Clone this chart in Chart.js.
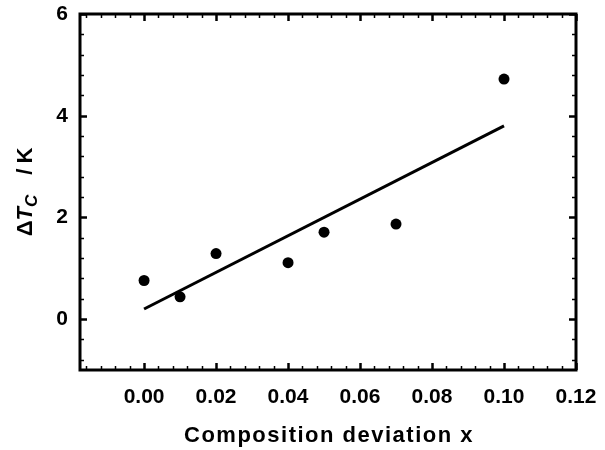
<!DOCTYPE html>
<html>
<head>
    <meta charset="utf-8"/>
    <title>Composition deviation</title>
    <style>
        html, body { margin: 0; padding: 0; background: #fff; }
        #chart-box { width: 605px; height: 450px; }
    </style>
    <script src="https://cdn.jsdelivr.net/npm/chart.js@4/dist/chart.umd.min.js"></script>
</head>
<body>
<div id="chart-box"><canvas id="chart"></canvas></div>
<script>
    // measured points
    const compX = [0.00, 0.01, 0.02, 0.04, 0.05, 0.07, 0.10];
    const deltaTc = [0.76, 0.44, 1.29, 1.11, 1.71, 1.87, 4.72];

    // fitted line end points
    const fitX = [0.00, 0.10];
    const fitY = [0.20, 3.80];

    const xTicks = [0.00, 0.02, 0.04, 0.06, 0.08, 0.10, 0.12];
    const yTicks = [0, 2, 4, 6];

    const FONT = "'Liberation Sans', Arial, sans-serif";

    function pairs(xs, ys) {
        return xs.map((x, i) => ({ x: x, y: ys[i] }));
    }

    // inward ticks on all four sides plus a closed frame
    const frameTicks = {
        id: 'frameTicks',
        afterDraw(chart) {
            const ctx = chart.ctx;
            const a = chart.chartArea;
            const xs = chart.scales.x, ys = chart.scales.y;
            ctx.save();
            ctx.strokeStyle = '#000';
            ctx.lineCap = 'butt';

            function xt(v, len, w) {
                const px = Math.round(xs.getPixelForValue(v)) + 0.5;
                ctx.lineWidth = w;
                ctx.beginPath();
                ctx.moveTo(px, a.bottom); ctx.lineTo(px, a.bottom - len);
                ctx.moveTo(px, a.top); ctx.lineTo(px, a.top + len);
                ctx.stroke();
            }
            function yt(v, len, w) {
                const py = Math.round(ys.getPixelForValue(v)) + 0.5;
                ctx.lineWidth = w;
                ctx.beginPath();
                ctx.moveTo(a.left, py); ctx.lineTo(a.left + len, py);
                ctx.moveTo(a.right, py); ctx.lineTo(a.right - len, py);
                ctx.stroke();
            }
            for (let k = -4; k <= 30; k++) {
                const v = k * 0.004;
                if (v < xs.min || v > xs.max) continue;
                if (k % 5 === 0) xt(v, 7, 2.5); else xt(v, 4, 1.5);
            }
            for (let k = -2; k <= 15; k++) {
                const v = k * 0.4;
                if (v < ys.min || v > ys.max) continue;
                if (k % 5 === 0) yt(v, 7, 2.5); else yt(v, 4, 1.5);
            }
            ctx.lineWidth = 3;
            ctx.strokeRect(a.left, a.top, a.right - a.left, a.bottom - a.top);

            // x title
            ctx.fillStyle = '#000';
            ctx.font = 'bold 22px ' + FONT;
            ctx.letterSpacing = '1.5px';
            ctx.textAlign = 'center';
            ctx.textBaseline = 'alphabetic';
            ctx.fillText('Composition deviation x', (a.left + a.right) / 2 + 1, 442);
            ctx.letterSpacing = '0px';

            // y title: ΔT_C / K, rotated
            const parts = [
                { t: '\u0394', f: 'bold 22px ' + FONT, dy: 0, gap: 0 },
                { t: 'T', f: 'italic bold 22px ' + FONT, dy: 0, gap: 0 },
                { t: 'C', f: 'italic bold 17px ' + FONT, dy: 5, gap: 20 },
                { t: '/', f: 'bold 22px ' + FONT, dy: 0, gap: 5 },
                { t: 'K', f: 'bold 22px ' + FONT, dy: 0, gap: 0 }
            ];
            let total = 0;
            parts.forEach(p => { ctx.font = p.f; p.w = ctx.measureText(p.t).width; total += p.w + p.gap; });
            ctx.translate(32, (a.top + a.bottom) / 2);
            ctx.rotate(-Math.PI / 2);
            ctx.textAlign = 'left';
            let cx = -total / 2;
            parts.forEach(p => {
                ctx.font = p.f;
                ctx.fillText(p.t, cx, p.dy);
                cx += p.w + p.gap;
            });
            ctx.restore();
        }
    };

    new Chart(document.getElementById('chart'), {
        type: 'scatter',
        data: {
            datasets: [
                {
                    label: 'data',
                    data: pairs(compX, deltaTc),
                    pointRadius: 5.5,
                    pointHoverRadius: 5.5,
                    pointBackgroundColor: '#000',
                    pointBorderColor: '#000',
                    pointBorderWidth: 0,
                    showLine: false
                },
                {
                    label: 'fit',
                    data: pairs(fitX, fitY),
                    showLine: true,
                    borderColor: '#000',
                    borderWidth: 3,
                    pointRadius: 0,
                    fill: false
                }
            ]
        },
        options: {
            responsive: true,
            maintainAspectRatio: false,
            animation: false,
            layout: { padding: { left: 0, top: 14, right: 29, bottom: 0 } },
            plugins: {
                legend: { display: false },
                tooltip: { enabled: false }
            },
            scales: {
                x: {
                    type: 'linear',
                    min: -0.0178,
                    max: 0.12,
                    grid: { display: false, drawTicks: false },
                    border: { display: false },
                    afterBuildTicks: s => { s.ticks = xTicks.map(v => ({ value: v })); },
                    afterFit: s => { s.height = 80; s.paddingLeft = 0; s.paddingRight = 0; },
                    ticks: {
                        color: '#000',
                        padding: 15,
                        maxRotation: 0,
                        autoSkip: false,
                        font: { family: FONT, size: 21, weight: 'bold' },
                        callback: v => v.toFixed(2)
                    }
                },
                y: {
                    type: 'linear',
                    min: -1,
                    max: 6,
                    grid: { display: false, drawTicks: false },
                    border: { display: false },
                    afterBuildTicks: s => { s.ticks = yTicks.map(v => ({ value: v })); },
                    afterFit: s => { s.width = 80; s.paddingTop = 0; s.paddingBottom = 0; },
                    ticks: {
                        color: '#000',
                        padding: 12,
                        autoSkip: false,
                        font: { family: FONT, size: 21, weight: 'bold' },
                        callback: v => String(v)
                    }
                }
            }
        },
        plugins: [frameTicks]
    });
</script>
</body>
</html>
